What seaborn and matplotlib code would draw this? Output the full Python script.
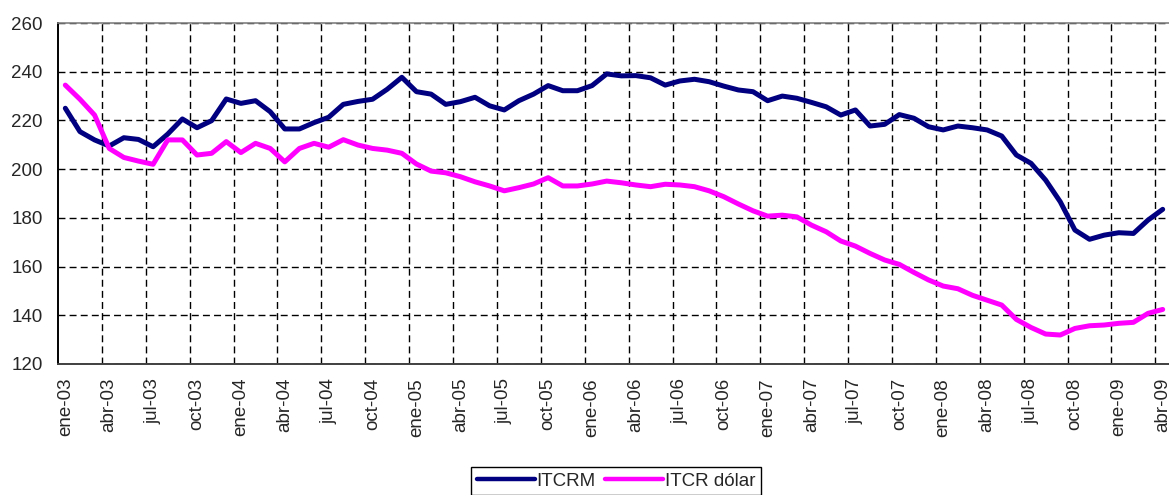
import matplotlib
matplotlib.use("Agg")
import matplotlib.pyplot as plt
import seaborn as sns
import pandas as pd
import numpy as np
from matplotlib.ticker import FixedLocator

meses = ["ene", "feb", "mar", "abr", "may", "jun", "jul", "ago", "sep", "oct", "nov", "dic"]
anios = ["03", "04", "05", "06", "07", "08", "09"]
fechas = [f"{m}-{a}" for a in anios for m in meses][:76]  # ene-03 .. abr-09

itcrm = [225.0, 215.4, 212.0, 209.5, 212.9, 212.2, 209.2, 214.4, 220.6, 217.0,
         219.9, 228.8, 227.0, 228.1, 223.6, 216.5, 216.5, 219.1, 221.3, 226.6,
         227.8, 228.7, 232.8, 237.7, 231.8, 230.8, 226.6, 227.7, 229.5, 226.0,
         224.3, 228.1, 230.8, 234.3, 232.2, 232.2, 234.3, 239.1, 238.3, 238.4,
         237.5, 234.5, 236.2, 236.9, 235.9, 234.1, 232.5, 231.8, 228.1, 230.0,
         229.1, 227.4, 225.6, 222.2, 224.3, 217.7, 218.4, 222.4, 220.9, 217.4,
         216.1, 217.7, 217.0, 216.1, 213.6, 205.8, 202.4, 195.5, 186.6, 175.0,
         171.2, 172.9, 173.9, 173.6, 179.1, 183.5]

itcr_dolar = [234.5, 228.7, 222.2, 208.5, 204.8, 203.3, 202.0, 212.0, 212.0, 205.8,
              206.5, 211.3, 206.8, 210.6, 208.5, 203.0, 208.5, 210.6, 209.0, 212.1,
              209.9, 208.5, 207.8, 206.5, 202.1, 199.2, 198.5, 196.9, 194.8, 193.1,
              191.1, 192.4, 193.9, 196.5, 193.1, 193.1, 193.9, 195.1, 194.4, 193.5,
              192.8, 193.8, 193.5, 192.8, 191.1, 188.7, 185.7, 182.9, 180.7, 181.1,
              180.4, 177.0, 174.3, 170.5, 168.4, 165.4, 162.7, 160.9, 157.6, 154.5,
              152.0, 150.9, 148.2, 146.2, 144.2, 138.3, 135.0, 132.3, 131.9, 134.6,
              135.7, 136.0, 136.7, 137.1, 140.8, 142.4]

series = ["ITCRM", "ITCR dólar"]
colores = ["#000080", "#FF00FF"]

df = pd.DataFrame({
    "idx": list(range(len(fechas))) * 2,
    "valor": itcrm + itcr_dolar,
    "serie": [series[0]] * len(itcrm) + [series[1]] * len(itcr_dolar),
})

sns.set_style("white")
plt.rcParams["font.family"] = ["Liberation Sans", "DejaVu Sans"]

W, H = 1169, 495
fig = plt.figure(figsize=(W / 100, H / 100), dpi=100)
ax = fig.add_axes([58 / W, 1 - 364 / H, 1112 / W, (364 - 23) / H])

sns.lineplot(data=df, x="idx", y="valor", hue="serie", palette=dict(zip(series, colores)),
             linewidth=3.6, ax=ax, legend=True)

ax.set_xlim(-0.5, len(fechas) - 0.5)
ax.set_ylim(120, 260)
ax.set_yticks(np.arange(120, 261, 20))
ax.set_xlabel("")
ax.set_ylabel("")

label_pos = list(range(0, len(fechas), 3))
ax.xaxis.set_major_locator(FixedLocator(label_pos))
ax.set_xticklabels([fechas[i] for i in label_pos], rotation=90, fontsize=13.5)
ax.xaxis.set_minor_locator(FixedLocator([-0.5 + 3 * k for k in range(1, 26)]))
ax.tick_params(axis="x", which="major", length=0, pad=10)
ax.tick_params(axis="x", which="minor", length=5, direction="in", color="#808080", width=1)
ax.tick_params(axis="y", which="major", length=5, direction="out", width=1, color="black",
               labelsize=13.5, pad=6)

ax.grid(False)
ax.yaxis.grid(True, which="major", linestyle=(0, (5, 3)), color="black", linewidth=1)
ax.xaxis.grid(True, which="minor", linestyle=(0, (5, 3)), color="black", linewidth=1)
ax.set_axisbelow(True)

for s in ["left", "bottom"]:
    ax.spines[s].set_visible(True)
    ax.spines[s].set_color("black")
    ax.spines[s].set_linewidth(1.4)
ax.spines["bottom"].set_color("#404040")
ax.spines["top"].set_visible(True)
ax.spines["top"].set_color("#808080")
ax.spines["top"].set_linewidth(1.2)
ax.spines["right"].set_visible(False)

handles, labels = ax.get_legend_handles_labels()
ax.get_legend().remove()
leg = fig.legend(handles, labels, loc="upper center", bbox_to_anchor=(616 / W, 1 - 467 / H),
                 ncol=2, frameon=True, fancybox=False, framealpha=1, edgecolor="black",
                 fontsize=13.5, handlelength=3.1, handletextpad=0.1, columnspacing=0.5,
                 borderpad=0.3, borderaxespad=0)
leg.get_frame().set_linewidth(1)
for h in leg.get_lines():
    h.set_linewidth(3.2)

fig.savefig("out.png", dpi=100)
